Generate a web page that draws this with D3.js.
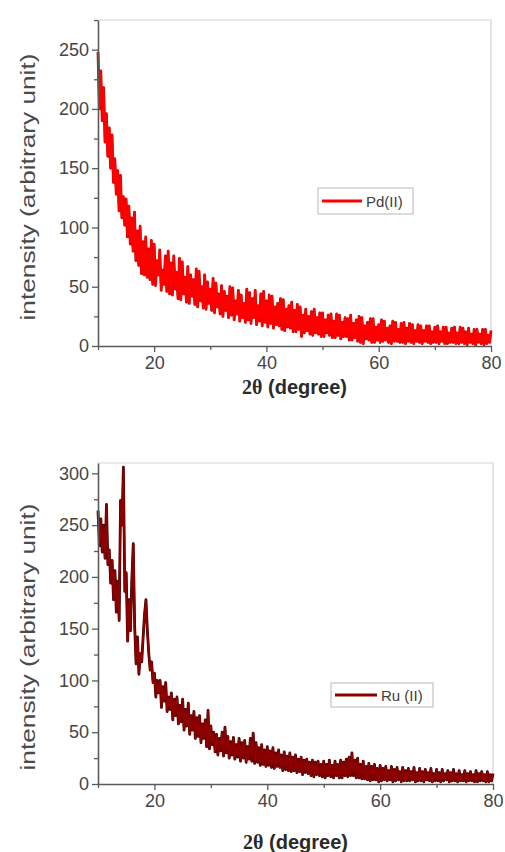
<!DOCTYPE html>
<html>
<head>
<meta charset="utf-8">
<script src="https://cdn.jsdelivr.net/npm/d3@7/dist/d3.min.js"></script>
<style>
  html, body { margin: 0; padding: 0; background: #fff; }
  svg { display: block; }
  text { font-family: Arial, "Liberation Sans", sans-serif; }
</style>
</head>
<body>
<svg id="chart" width="505" height="852"></svg>
<script>
// Scan grid: 2θ from 10° to 80° in 0.25° steps
const thetaStart = 10;
const thetaStep = 0.25;

// Pd(II) complex powder pattern, intensity per step (4 steps per degree)
const pdIntensity = [
  248,200,232,190, 218,172,196,160, 184,150,178,138, 158,128,148,114,
  144,108,126,102, 124,92,118,86, 108,80,113,72, 97,68,101,61,
  88,60,92,58, 82,56,89,52, 86,51,72,60, 81,47,64,52,
  76,46,80,44, 70,43,76,48, 62,40,74,39, 71,44,58,37,
  67,36,60,42, 56,35,65,33, 63,38,50,32, 60,31,54,36,
  48,30,57,28, 53,33,44,27, 51,25,46,30, 42,24,50,26,
  49,22,38,27, 47,21,43,24, 36,20,48,22, 45,19,40,24,
  47,18,34,21, 44,17,46,20, 38,16,43,19, 42,15,33,18,
  36,17,40,14, 39,13,31,16, 34,15,37,12, 30,12,35,14,
  33,8,26,11, 31,13,25,10, 29,9,31,11, 24,10,28,8,
  28,8,22,11, 26,9,27,7, 21,7,27,9, 26,6,20,8,
  24,8,23,5, 26,5,19,7, 22,4,25,3, 24,2,17,6,
  20,5,23,3, 23,3,16,5, 18,3,22,4, 21,5,15,3,
  17,2,21,4, 20,4,14,3, 19,3,20,2, 15,4,19,3,
  18,2,13,4, 18,3,17,2, 13,4,17,3, 17,2,12,3,
  16,3,17,2, 12,4,16,2, 16,2,11,3, 15,3,16,2,
  11,2,16,3, 15,2,12,1, 15,3,10,2, 14,1,14,3,
  10,2,14,1, 14,2,9,3, 13
];

// Ru(II) complex powder pattern, intensity per step (4 steps per degree)
const ruIntensity = [
  264,230,256,224, 250,218,270,212, 226,194,216,178, 206,166,196,158,
  274,250,306,186, 204,138,178,148, 198,232,152,116, 142,106,126,118,
  142,164,178,148, 126,110,118,98, 107,84,100,88, 100,74,94,80,
  98,70,84,72, 88,62,82,66, 84,58,76,60, 82,52,72,56,
  78,48,66,52, 70,44,64,46, 66,40,58,44, 62,36,71,34,
  56,38,50,31, 48,28,44,32, 50,27,55,30, 46,25,41,28,
  45,24,38,26, 44,22,40,25, 42,21,36,24, 44,22,49,20,
  40,21,35,18, 38,19,33,17, 36,18,32,16, 35,15,30,17,
  33,16,28,13, 31,14,27,13, 30,12,26,13, 28,11,24,12,
  26,9,23,11, 24,10,21,8, 23,7,21,9, 22,8,19,7,
  22,6,19,8, 23,7,18,6, 22,8,19,6, 23,6,21,8,
  24,7,26,8, 30,8,23,6, 25,6,19,5, 22,5,17,4,
  20,3,17,4, 19,4,15,2, 18,3,15,4, 17,3,13,4,
  17,2,14,3, 16,4,12,2, 16,3,13,3, 15,3,12,4,
  16,2,11,3, 15,3,12,2, 14,4,11,3, 15,2,10,3,
  14,3,11,2, 14,3,10,4, 13,2,11,3, 14,3,10,2,
  13,3,9,3, 13,2,10,3, 12,3,9,2, 13,2,10,3,
  12,3,9,2, 12,2,9,3, 10
];

const xTickValues = [20, 40, 60, 80];
const xMinorValues = [10, 30, 50, 70];
const pdYTicks = [0, 50, 100, 150, 200, 250];
const ruYTicks = [0, 50, 100, 150, 200, 250, 300];

const svg = d3.select("#chart");

function toPoints(values) {
  return values.map((v, i) => ({ x: thetaStart + i * thetaStep, y: v }));
}

function drawPanel(cfg) {
  const g = svg.append("g");
  const x = d3.scaleLinear().domain([10, 80]).range([cfg.left, cfg.right]);
  const y = d3.scaleLinear().domain([0, cfg.yMax]).range([cfg.bottom, cfg.top]);

  // light frame on top and right
  g.append("path")
    .attr("d", `M${cfg.left},${cfg.top}H${cfg.right}V${cfg.bottom}`)
    .attr("fill", "none").attr("stroke", "#d4d4d4").attr("stroke-width", 1.2);

  // data trace: dark underlay then coloured stroke, dense enough to read as a band
  const line = d3.line().x(d => x(d.x)).y(d => y(d.y));
  const pts = toPoints(cfg.values);
  g.append("path").datum(pts).attr("d", line)
    .attr("fill", "none").attr("stroke", cfg.edge)
    .attr("stroke-width", cfg.edgeWidth).attr("stroke-linejoin", "round");
  g.append("path").datum(pts).attr("d", line)
    .attr("fill", "none").attr("stroke", cfg.color)
    .attr("stroke-width", cfg.width).attr("stroke-linejoin", "round");

  // x axis
  g.append("g").attr("transform", `translate(0,${cfg.bottom})`)
    .call(d3.axisBottom(x).tickValues(xTickValues).tickSize(6).tickSizeOuter(0).tickPadding(4));
  g.append("g").attr("transform", `translate(0,${cfg.bottom})`)
    .call(d3.axisBottom(x).tickValues(xMinorValues).tickSize(4).tickSizeOuter(0).tickFormat(""))
    .select(".domain").remove();

  // y axis
  const yMinor = cfg.yTicks.slice(0, -1).map(v => v + 25);
  if (cfg.yTicks[cfg.yTicks.length - 1] + 25 <= cfg.yMax) yMinor.push(cfg.yTicks[cfg.yTicks.length - 1] + 25);
  g.append("g").attr("transform", `translate(${cfg.left},0)`)
    .call(d3.axisLeft(y).tickValues(cfg.yTicks).tickSize(6).tickSizeOuter(0).tickPadding(3));
  g.append("g").attr("transform", `translate(${cfg.left},0)`)
    .call(d3.axisLeft(y).tickValues(yMinor).tickSize(4).tickFormat(""))
    .select(".domain").remove();

  g.selectAll(".domain").attr("stroke", "#5a5a5a").attr("stroke-width", 1.6);
  g.selectAll(".tick line").attr("stroke", "#5a5a5a").attr("stroke-width", 1.3);
  g.selectAll(".tick text")
    .attr("fill", "#454545")
    .style("font-size", "18px")
    .style("font-family", "Arial, 'Liberation Sans', sans-serif");

  // y title
  g.append("text")
    .attr("transform", `translate(${cfg.yTitleX},${cfg.yTitleY}) rotate(-90)`)
    .attr("text-anchor", "middle")
    .attr("fill", "#4a4a4a")
    .attr("textLength", cfg.yTitleLen)
    .attr("lengthAdjust", "spacingAndGlyphs")
    .style("font-size", "20px")
    .text("intensity (arbitrary unit)");

  // x title
  const xt = g.append("text")
    .attr("x", (cfg.left + cfg.right) / 2)
    .attr("y", cfg.xTitleY)
    .attr("text-anchor", "middle")
    .attr("fill", "#2a2a2a")
    .style("font-size", "20px")
    .style("font-weight", "bold");
  xt.append("tspan").style("font-family", "'Liberation Serif', 'DejaVu Serif', serif").text("2θ");
  xt.append("tspan").text(" (degree)");

  // legend
  const lg = g.append("g").attr("transform", `translate(${cfg.legend.x},${cfg.legend.y})`);
  lg.append("rect").attr("width", cfg.legend.w).attr("height", cfg.legend.h)
    .attr("fill", "#fff").attr("stroke", "#c4c4c4").attr("stroke-width", 1.2);
  lg.append("line").attr("x1", 4).attr("x2", cfg.legend.lineLen + 4)
    .attr("y1", cfg.legend.h / 2).attr("y2", cfg.legend.h / 2)
    .attr("stroke", cfg.color).attr("stroke-width", 3);
  lg.append("text").attr("x", cfg.legend.lineLen + 8).attr("y", cfg.legend.h / 2 + 5.5)
    .attr("fill", "#404040").style("font-size", "15px").text(cfg.label);
}

drawPanel({
  left: 98, right: 491, top: 20, bottom: 346, yMax: 275,
  values: pdIntensity, yTicks: pdYTicks,
  color: "#ff0000", width: 2.0, edge: "#cc0000", edgeWidth: 2.8,
  label: "Pd(II)",
  yTitleX: 35, yTitleY: 187, yTitleLen: 267,
  xTitleY: 394,
  legend: { x: 318, y: 188, w: 95, h: 26, lineLen: 40 }
});

drawPanel({
  left: 98, right: 493, top: 463, bottom: 784, yMax: 310,
  values: ruIntensity, yTicks: ruYTicks,
  color: "#8b0000", width: 1.9, edge: "#3c0000", edgeWidth: 2.8,
  label: "Ru (II)",
  yTitleX: 35, yTitleY: 637, yTitleLen: 267,
  xTitleY: 849,
  legend: { x: 331, y: 683, w: 102, h: 24, lineLen: 42 }
});
</script>
</body>
</html>
